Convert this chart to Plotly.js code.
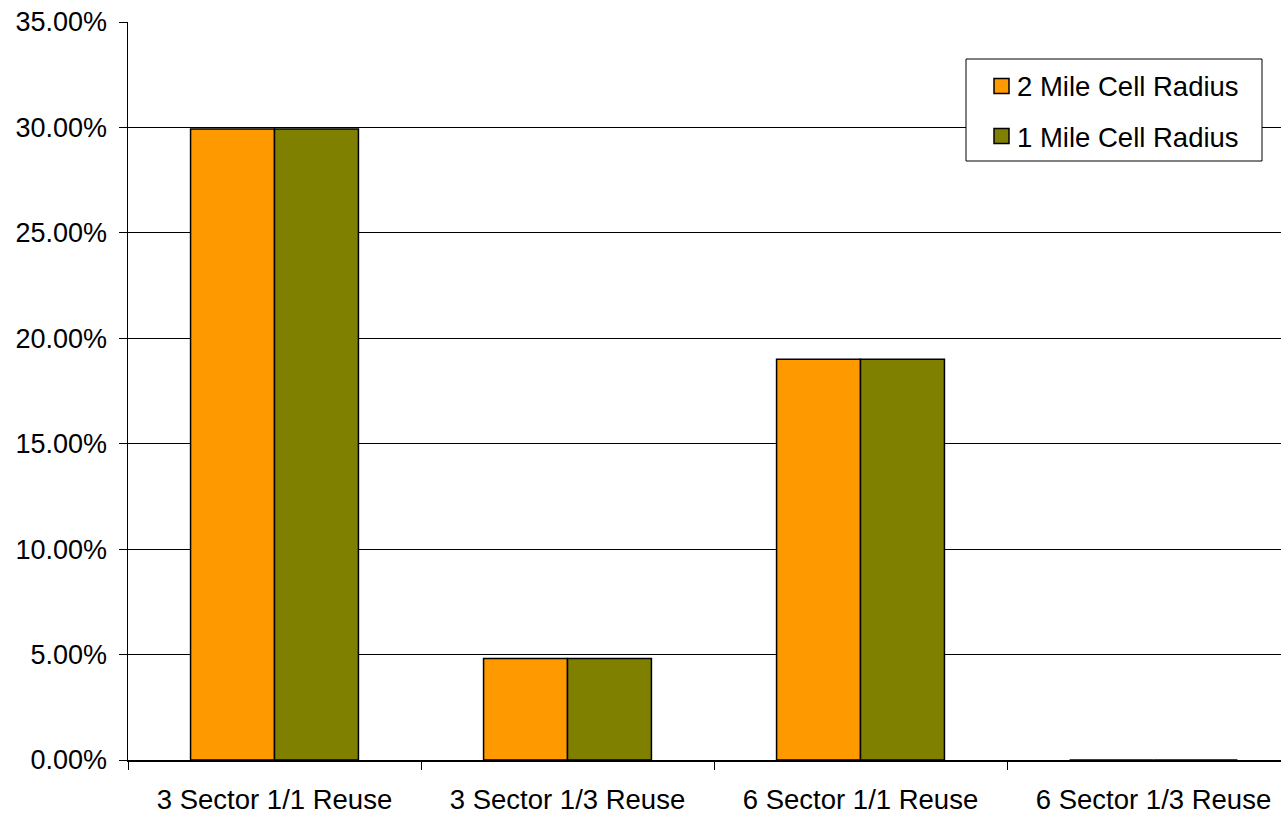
<!DOCTYPE html>
<html>
<head>
<meta charset="utf-8">
<script src="https://cdn.plot.ly/plotly-3.0.1.min.js"></script>
<style>
  html, body { margin: 0; padding: 0; background: #ffffff; overflow: hidden; }
  #chart { width: 1320px; height: 814px; }
</style>
</head>
<body>
<div id="chart"></div>
<script>
// Reuse scenarios on the category axis
const categories = ["3 Sector 1/1 Reuse", "3 Sector 1/3 Reuse", "6 Sector 1/1 Reuse", "6 Sector 1/3 Reuse"];

// Share per scenario, as fractions (shown as percentages)
const twoMileRadius = [0.2992, 0.0481, 0.1900, 0];
const oneMileRadius = [0.2992, 0.0481, 0.1900, 0];

const seriesNames = ["2 Mile Cell Radius", "1 Mile Cell Radius"];
const seriesColors = ["#FF9900", "#808000"];

const FONT = "Liberation Sans, Arial, sans-serif";

const W = 1320, H = 814;
const M = { l: 128, r: 20, t: 22, b: 54 };
const plotW = W - M.l - M.r, plotH = H - M.t - M.b;
// pixel -> paper coordinates
const px = v => (v - M.l) / plotW;
const py = v => (H - M.b - v) / plotH;

const traces = [twoMileRadius, oneMileRadius].map((vals, i) => ({
  type: "bar",
  name: seriesNames[i],
  x: categories,
  y: vals,
  marker: { color: seriesColors[i], line: { color: "#000000", width: 1.5 } },
  hoverinfo: "x+y+name",
  showlegend: false
}));

// Legend box with a swatch and a label per series
const shapes = [{
  type: "rect", xref: "paper", yref: "paper",
  x0: px(966), x1: px(1262), y0: py(161), y1: py(59),
  fillcolor: "#ffffff", line: { color: "#000000", width: 1 }, layer: "above"
}];
const annotations = [];
seriesNames.forEach((name, i) => {
  const cy = 86 + i * 50;
  shapes.push({
    type: "rect", xref: "paper", yref: "paper",
    x0: px(994), x1: px(1009), y0: py(cy + 7.5), y1: py(cy - 7.5),
    fillcolor: seriesColors[i], line: { color: "#000000", width: 1.5 }, layer: "above"
  });
  annotations.push({
    xref: "paper", yref: "paper",
    x: px(1015), y: py(cy + 1),
    xanchor: "left", yanchor: "middle",
    text: name, showarrow: false,
    font: { family: FONT, size: 27.5, color: "#000000" }
  });
});

const layout = {
  width: W,
  height: H,
  margin: M,
  paper_bgcolor: "#ffffff",
  plot_bgcolor: "#ffffff",
  font: { family: FONT, color: "#000000", size: 27 },
  barmode: "group",
  bargap: 0.427,
  bargroupgap: 0,
  showlegend: false,
  shapes: shapes,
  annotations: annotations,
  xaxis: {
    type: "category",
    showline: true,
    linecolor: "#000000",
    linewidth: 1.5,
    ticks: "outside",
    tickson: "boundaries",
    ticklen: 8,
    tickcolor: "#000000",
    ticklabelstandoff: 14,
    tickfont: { family: FONT, size: 27.5, color: "#000000" },
    showgrid: false,
    zeroline: false,
    fixedrange: true
  },
  yaxis: {
    range: [0, 0.35],
    dtick: 0.05,
    tick0: 0,
    tickformat: ".2%",
    showline: true,
    linecolor: "#000000",
    linewidth: 1.5,
    ticks: "outside",
    ticklen: 8,
    tickcolor: "#000000",
    ticklabelstandoff: 6,
    tickfont: { family: FONT, size: 27, color: "#000000" },
    showgrid: true,
    gridcolor: "#000000",
    gridwidth: 1,
    zeroline: false,
    fixedrange: true
  }
};

Plotly.newPlot("chart", traces, layout, { displayModeBar: false, staticPlot: true });
</script>
</body>
</html>
